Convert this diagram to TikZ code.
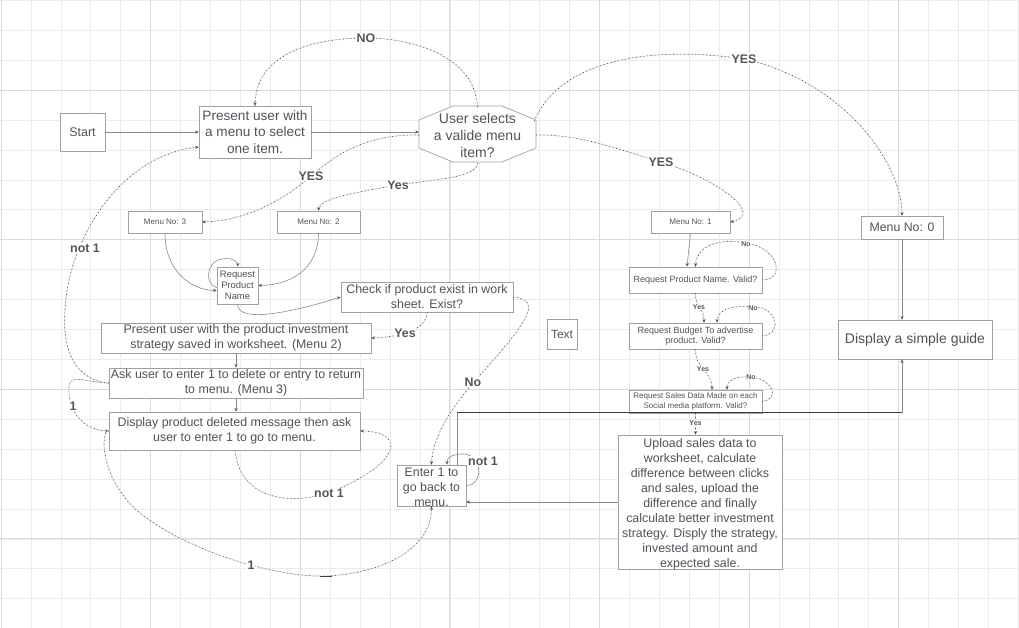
\documentclass[tikz,border=0pt]{standalone}
\usepackage{fontspec}
\setmainfont{Liberation Sans}
\usetikzlibrary{arrows.meta,calc}
\definecolor{gridmin}{HTML}{EBEBEB}
\definecolor{gridmaj}{HTML}{DADADA}
\definecolor{bord}{HTML}{A0A0A0}
\definecolor{txt}{HTML}{4F5358}
\definecolor{lblc}{HTML}{555555}
\definecolor{soli}{HTML}{8A8A8A}
\definecolor{dotl}{HTML}{D4D4D4}
\definecolor{dotd}{HTML}{383838}
\definecolor{darkl}{HTML}{3A3F47}
\definecolor{tipc}{HTML}{555555}
\tikzset{
  box/.style={draw=bord, line width=0.7pt, fill=white, text=txt, align=center, inner sep=0pt},
  ftext/.style={text=txt, align=center, inner sep=0pt},
  f8/.style={font=\fontsize{8}{9.7}\selectfont},
  f9/.style={font=\fontsize{9}{10.3}\selectfont},
  f94/.style={font=\fontsize{9.4}{11}\selectfont},
  f12/.style={font=\fontsize{12}{14}\selectfont},
  f123/.style={font=\fontsize{12.3}{14.5}\selectfont},
  f124/.style={font=\fontsize{12.4}{15}\selectfont},
  f125/.style={font=\fontsize{12.5}{15}\selectfont},
  f136/.style={font=\fontsize{13.6}{16.7}\selectfont},
  f14/.style={font=\fontsize{14}{17}\selectfont},
  gridminline/.style={draw=gridmin, line width=0.6pt},
  gridmajline/.style={draw=gridmaj, line width=0.9pt},
  solc/.style={draw=soli, line width=0.6pt},
  dotc/.style={draw=dotl, line width=0.7pt, postaction={draw=dotd, line width=0.65pt, dash pattern=on 0.7pt off 3pt, -}},
  darkc/.style={draw=darkl, line width=0.9pt},
  arr/.style={-{Stealth[length=3.6pt,width=3.2pt,color=tipc]}},
  lbl/.style={font=\fontsize{12.4}{14}\selectfont\bfseries, text=lblc, fill=white, inner sep=0.6pt},
  slbl/.style={font=\fontsize{7}{8}\selectfont\bfseries, text=lblc, fill=white, inner sep=0.3pt}
}
\begin{document}
\begin{tikzpicture}[x=1pt,y=-1pt]
\useasboundingbox (0,0) rectangle (1019,628);
\fill[white] (0,0) rectangle (1019,628);
% grid
\foreach \i in {0,...,34} \draw[gridminline] ({1+29.92*\i},0) -- ({1+29.92*\i},628);
\foreach \j in {0,...,20} \draw[gridminline] (0,{0.3+29.92*\j}) -- (1019,{0.3+29.92*\j});
\foreach \i in {0,5,...,30} \draw[gridmajline] ({1+29.92*\i},0) -- ({1+29.92*\i},628);
\foreach \j in {3,8,13,18} \draw[gridmajline] (0,{0.3+29.92*\j}) -- (1019,{0.3+29.92*\j});

% nodes
\node[box, f125, minimum width=45, minimum height=38] (start) at (82.5,132) {Start};
\node[box, f136, minimum width=112, minimum height=52] (menu) at (255,132) {Present user with\\a menu to select\\one item.};
\draw[draw=bord, line width=0.7pt, fill=white] (453,106) -- (502,106) -- (536,120) -- (536,148) -- (502,162) -- (453,162) -- (419,148) -- (419,120) -- cycle;
\node[ftext, f14, minimum width=117, minimum height=56] (sel) at (477.5,135) {User selects\\a valide menu\\item?};
\node[box, f8, minimum width=74, minimum height=22] (m3) at (165,222) {Menu No: 3};
\node[box, f8, minimum width=83, minimum height=22] (m2) at (318.5,222) {Menu No: 2};
\node[box, f94, minimum width=41, minimum height=37] (rpn) at (237.5,285.5) {Request\\Product\\Name};
\node[box, f124, minimum width=172, minimum height=30] (check) at (427,297) {Check if product exist in work\\sheet. Exist?};
\node[box, f124, minimum width=270, minimum height=30] (strat) at (236,338) {Present user with the product investment\\strategy saved in worksheet. (Menu 2)};
\node[box, f124, minimum width=254, minimum height=30] (ask) at (236,383) {Ask user to enter 1 to delete or entry to return\\to menu. (Menu 3)};
\node[box, f124, minimum width=251, minimum height=38] (del) at (234.5,431) {Display product deleted message then ask\\user to enter 1 to go to menu.};
\node[box, minimum width=69, minimum height=41] (enter) at (431.5,485.5) {};
\node[ftext, f124] (entert) at (431.5,487) {Enter 1 to\\go back to\\menu.};
\node[box, f12, minimum width=30, minimum height=30] (textbox) at (562,334) {Text};
\node[box, f8, minimum width=79, minimum height=22] (m1) at (690.5,222) {Menu No: 1};
\node[box, f9, minimum width=133, minimum height=26] (rpv) at (695.5,280) {Request Product Name. Valid?};
\node[box, f9, minimum width=133, minimum height=26] (bud) at (695.5,336) {Request Budget To advertise\\product. Valid?};
\node[box, f8, minimum width=133, minimum height=23] (sales) at (695.5,401.5) {Request Sales Data Made on each\\Social media platform. Valid?};
\node[box, f124, minimum width=164, minimum height=134] (upload) at (700,502) {};
\node[ftext, f124] (uploadt) at (700,504) {Upload sales data to\\worksheet, calculate\\difference between clicks\\and sales, upload the\\difference and finally\\calculate better investment\\strategy. Disply the strategy,\\invested amount and\\expected sale.};
\node[box, f123, minimum width=82, minimum height=23] (m0) at (902,227.5) {Menu No: 0};
\node[box, f14, minimum width=154, minimum height=39] (guide) at (915,339.5) {Display a simple guide};

% connectors
\draw[solc, arr] (start.east) -- (start.east -| menu.west);
\draw[solc, arr] (menu.east) -- (menu.east -| sel.west);
\draw[dotc, arr] (sel.north) .. controls (475,55) and (410,38) .. (366,38) .. controls (320,38) and (256,50) .. (menu.north);
\node[lbl] (lno) at (366,38) {NO};
\draw[dotc, arr] (sel.west) .. controls (360,134) and (330,160) .. (311,176) .. controls (290,195) and (250,221) .. (m3.east);
\node[lbl] (lyes3) at (311,176) {YES};
\draw[dotc, arr] (sel.south) .. controls (477,178) and (430,180) .. (398,185) .. controls (340,195) and (319,200) .. (m2.north);
\node[lbl] (lyes2) at (398,185) {Yes};
\draw[dotc, arr] (sel.east) .. controls (580,134) and (620,150) .. (661,162) .. controls (720,180) and (765,215) .. (m1.east);
\node[lbl] (lyes1) at (661,162) {YES};
\draw[dotc, arr] ($(sel.east)+(-2,-14)$) .. controls (560,60) and (650,45) .. (744,59) .. controls (840,80) and (902,160) .. (m0.north);
\node[lbl] (lyes0) at (744,59) {YES};
\draw[solc, arr] (m0.south) -- (m0.south |- guide.north);
\coordinate (eg1) at (457,412);
\coordinate (eg2) at (902,412);
\draw[solc, arr] (enter.north -| eg1) -- (eg1) -- (eg2) -- (eg2 |- guide.south);
\draw[darkc] (eg1) -- (eg2);
\draw[solc, arr] (upload.west) -- (upload.west -| enter.east);
\draw[solc, arr] (enter.east) .. controls (485,485) and (482,452) .. (461,454) .. controls (450,455) and (447,458) .. ($(enter.north)+(15.5,0)$);
\node[lbl] (lnot1e) at (483,461) {not 1};
\draw[dotc, arr] (check.east) .. controls (545,300) and (525,325) .. (473,383) .. controls (448,412) and (432,440) .. (enter.north);
\node[lbl] (lno2) at (473,382) {No};
\draw[dotc, arr] (check.south) .. controls (427,328) and (405,337) .. (strat.east);
\node[lbl] (lyes4) at (405,333) {Yes};
\draw[solc, arr] ($(rpn.west)+(0,2)$) .. controls (205,285) and (205,262) .. (222,259) .. controls (232,257) and (238,262) .. (rpn.north);
\draw[solc, arr] (m3.south) .. controls (165,270) and (190,290) .. ($(rpn.west)+(0,5)$);
\draw[solc, arr] (m2.south) .. controls (318,270) and (290,285) .. (rpn.east);
\draw[solc, arr] (rpn.south) .. controls (238,325) and (300,310) .. (check.west);
\draw[solc, arr] (strat.south) -- (ask.north);
\draw[solc, arr] (ask.south) -- (ask.south |- del.north);
\draw[dotc, arr] (ask.west) .. controls (75,380) and (62,350) .. (65,310) .. controls (68,240) and (120,155) .. ($(menu.west)+(0,15)$);
\node[lbl] (lnot1a) at (85,248) {not 1};
\draw[dotc, arr] (ask.west) .. controls (88,383) and (71,373) .. (69,386) .. controls (67,412) and (85,431) .. (del.west);
\node[lbl] (l1a) at (73,406) {1};
\draw[dotc, arr] (del.west) .. controls (100,431) and (100,480) .. (140,513) .. controls (190,553) and (280,578) .. (326,576) .. controls (380,574) and (432,550) .. (enter.south);
\draw[darkc] (320,576.2) -- (332,576.2);
\node[lbl] (l1b) at (251,565) {1};
\draw[dotc, arr] ($(del.south)+(0.5,0)$) .. controls (240,500) and (290,505) .. (329,493) .. controls (405,462) and (405,431) .. (del.east);
\node[lbl] (lnot1d) at (329,493) {not 1};
% right column
\draw[solc, arr] (m1.south) -- ($(rpv.north)+(-8.5,0)$);
\draw[dotc, arr] (rpv.east) .. controls (785,280) and (780,248) .. (746,243) .. controls (720,238) and (696,245) .. (rpv.north);
\node[slbl] (lnoa) at (746,244) {No};
\draw[dotc, arr] (rpv.south) .. controls (695.5,310) and (704,305) .. ($(bud.north)+(8.5,0)$);
\node[slbl] (lyesa) at (699,307) {Yes};
\draw[dotc, arr] (bud.east) .. controls (785,333) and (775,305) .. (752,307) .. controls (730,305) and (717,310) .. ($(bud.north)+(21.5,0)$);
\node[slbl] (lnob) at (753,308) {No};
\draw[dotc, arr] (bud.south) .. controls (695.5,370) and (712,370) .. ($(sales.north)+(16.5,0)$);
\node[slbl] (lyesb) at (703,369) {Yes};
\draw[dotc, arr] (sales.east) .. controls (782,398) and (770,378) .. (751,377) .. controls (735,376) and (727,380) .. ($(sales.north)+(31.5,0)$);
\node[slbl] (lnoc) at (751,377) {No};
\draw[dotc, arr] (sales.south) -- (sales.south |- upload.north);
\node[slbl] (lyesc) at (695.5,423) {Yes};
\end{tikzpicture}
\end{document}
